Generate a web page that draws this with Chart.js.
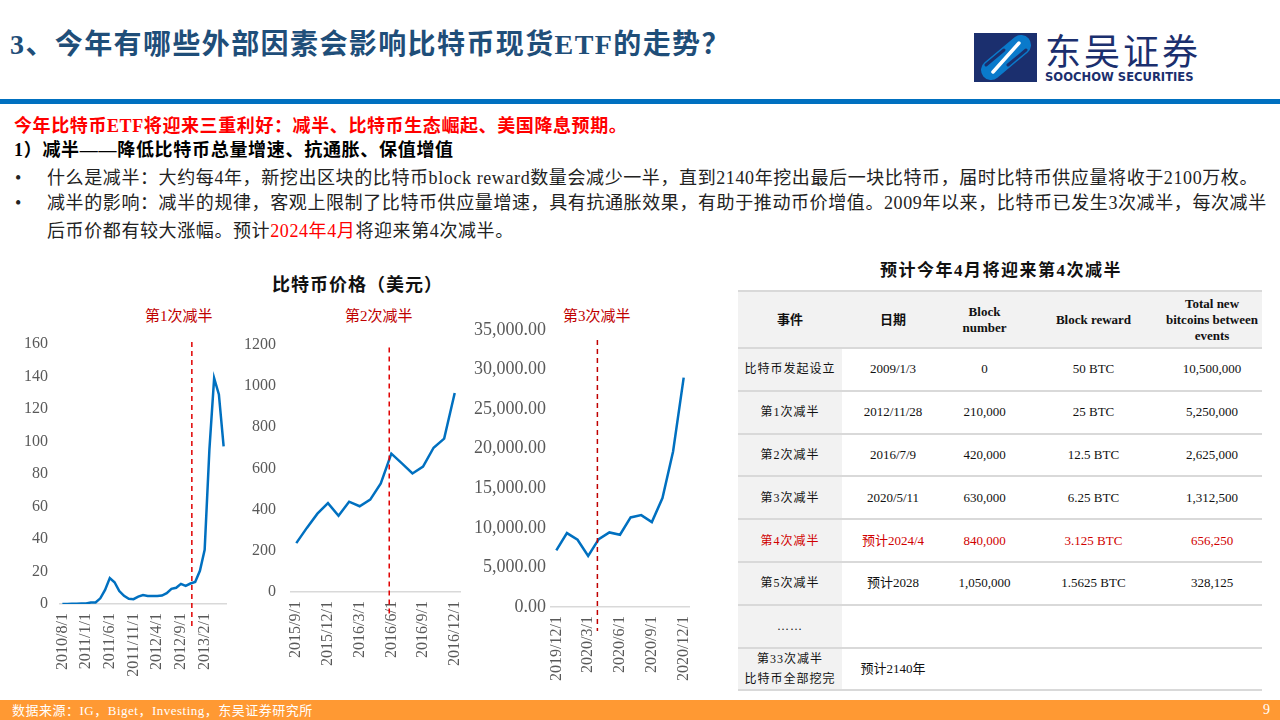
<!DOCTYPE html>
<html>
<head>
<meta charset="utf-8">
<script src="https://cdn.jsdelivr.net/npm/chart.js@4.4.1/dist/chart.umd.min.js"></script>
<style>
  body { margin: 0; width: 1280px; height: 720px; position: relative; overflow: hidden; background: #fff;
         font-family: 'Liberation Serif', 'Noto Sans CJK SC', serif; }
  .abs { position: absolute; white-space: nowrap; line-height: 1; }
  #head { left: 10px; top: 31px; font-size: 28px; font-weight: 700; color: #1F4E79; letter-spacing: 1.4px; }
  #rule { left: 0; top: 99px; width: 1280px; height: 5px; background: #0070C0; }
  .txt { font-size: 18px; color: #222; }
  .red { color: #FF0000; }
  .bold { font-weight: 700; }
  .ann { font-size: 15px; color: #C00000; }
  #ctitle { left: 272px; top: 276px; font-size: 18px; font-weight: 700; color: #111; letter-spacing: 1px; }
  #ttitle { left: 880px; top: 262px; font-size: 17px; font-weight: 700; color: #111; letter-spacing: 1.5px; }
  table { position: absolute; left: 738px; top: 290px; width: 524px; border-collapse: collapse; table-layout: fixed;
          font-size: 13px; color: #111; }
  th { background: #F2F2F2; height: 55px; padding: 0; font-weight: 700; border-top: 2px solid #D9D9D9; border-bottom: 2px solid #D9D9D9; line-height: 16px; }
  td { height: 40.8px; padding: 0; text-align: center; border-bottom: 2px solid #D9D9D9; line-height: 20px; }
  td.c1 { background: #F2F2F2; font-size: 12px; letter-spacing: 1px; }
  tr.hl td { color: #D00000; }
  #foot { left: 0; top: 700px; width: 1280px; height: 20px; background: #FF9933; }
  #src { left: 12px; top: 704px; font-size: 13px; color: #fff; letter-spacing: 0.5px; }
  #pg { left: 1263px; top: 703px; font-size: 14px; color: #fff; }
  canvas { position: absolute; }
</style>
</head>
<body>
<div class="abs" id="head">3、今年有哪些外部因素会影响比特币现货ETF的走势？</div>
<svg class="abs" style="left:974px;top:33px" width="63" height="49" viewBox="0 0 63 49">
  <rect x="0" y="0" width="63" height="49" fill="#1B2F6E"/>
  <line x1="17" y1="37" x2="47" y2="12" stroke="#0A7ACB" stroke-width="20" stroke-linecap="round"/>
  <line x1="12" y1="32" x2="30" y2="17" stroke="#1B2F6E" stroke-width="3" stroke-linecap="round"/>
  <line x1="34" y1="32" x2="52" y2="17" stroke="#1B2F6E" stroke-width="3" stroke-linecap="round"/>
  <line x1="19" y1="39" x2="45" y2="10" stroke="#fff" stroke-width="3.5" stroke-linecap="round"/>
</svg>
<div class="abs" style="left:1045px;top:31px;font-size:36px;color:#1B2F6E;font-family:'Noto Sans CJK SC';letter-spacing:3px;">东吴证券</div>
<div class="abs" style="left:1045px;top:70px;font-size:13px;font-weight:700;color:#1B2F6E;font-family:'DejaVu Sans';transform:scaleX(0.89);transform-origin:left top;">SOOCHOW SECURITIES</div>
<div class="abs" id="rule"></div>

<div class="abs txt red bold" style="left:14px;top:117px;letter-spacing:0.6px;">今年比特币ETF将迎来三重利好：减半、比特币生态崛起、美国降息预期。</div>
<div class="abs txt bold" style="left:14px;top:141px;color:#000;letter-spacing:0.7px;">1）减半——降低比特币总量增速、抗通胀、保值增值</div>
<div class="abs txt" style="left:15px;top:169px;">•</div>
<div class="abs txt" style="left:47px;top:169px;letter-spacing:0.6px;">什么是减半：大约每4年，新挖出区块的比特币block reward数量会减少一半，直到2140年挖出最后一块比特币，届时比特币供应量将收于2100万枚。</div>
<div class="abs txt" style="left:15px;top:194px;">•</div>
<div class="abs txt" style="left:47px;top:194px;letter-spacing:0.6px;">减半的影响：减半的规律，客观上限制了比特币供应量增速，具有抗通胀效果，有助于推动币价增值。2009年以来，比特币已发生3次减半，每次减半</div>
<div class="abs txt" style="left:47px;top:222px;letter-spacing:0.6px;">后币价都有较大涨幅。预计<span class="red">2024年4月</span>将迎来第4次减半。</div>

<div class="abs" id="ctitle">比特币价格（美元）</div>
<div class="abs ann" style="left:145px;top:309px;">第1次减半</div>
<div class="abs ann" style="left:345px;top:309px;">第2次减半</div>
<div class="abs ann" style="left:563px;top:309px;">第3次减半</div>

<canvas id="c1" width="260" height="380" style="left:0;top:320px;width:260px;height:380px"></canvas>
<canvas id="c2" width="260" height="380" style="left:230px;top:320px;width:260px;height:380px"></canvas>
<canvas id="c3" width="260" height="390" style="left:460px;top:310px;width:260px;height:390px"></canvas>

<div class="abs" id="ttitle">预计今年4月将迎来第4次减半</div>
<table>
  <colgroup><col style="width:104px"><col style="width:102px"><col style="width:81px"><col style="width:137px"><col style="width:100px"></colgroup>
  <thead><tr><th>事件</th><th>日期</th><th>Block<br>number</th><th>Block reward</th><th>Total new<br>bitcoins between<br>events</th></tr></thead>
  <tbody id="tb"></tbody>
</table>

<div class="abs" id="foot"></div>
<div class="abs" id="src">数据来源：IG，Biget，Investing，东吴证券研究所</div>
<div class="abs" id="pg">9</div>

<script>
// 第1次减半前后（2010/8 - 2013/6，月度）
const labels1 = ['2010/8/1','2010/9/1','2010/10/1','2010/11/1','2010/12/1','2011/1/1','2011/2/1','2011/3/1','2011/4/1','2011/5/1',
  '2011/6/1','2011/7/1','2011/8/1','2011/9/1','2011/10/1','2011/11/1','2011/12/1','2012/1/1','2012/2/1','2012/3/1',
  '2012/4/1','2012/5/1','2012/6/1','2012/7/1','2012/8/1','2012/9/1','2012/10/1','2012/11/1','2012/12/1','2013/1/1',
  '2013/2/1','2013/3/1','2013/4/1','2013/5/1','2013/6/1'];
const price1 = [0.07, 0.06, 0.2, 0.2, 0.3, 0.3, 0.9, 0.9, 3.5, 8.7,
  16, 13.4, 8, 5, 3.2, 3, 4.5, 5.5, 4.9, 4.9,
  4.9, 5.2, 6.7, 9.3, 10, 12.4, 11.2, 12.6, 13.5, 20.4,
  33.4, 95, 139, 129, 97];

// 第2次减半前后（2015/9 - 2016/12）
const labels2 = ['2015/9/1','2015/10/1','2015/11/1','2015/12/1','2016/1/1','2016/2/1','2016/3/1','2016/4/1',
  '2016/5/1','2016/6/1','2016/7/1','2016/8/1','2016/9/1','2016/10/1','2016/11/1','2016/12/1'];
const price2 = [237, 311, 380, 431, 370, 438, 416, 448, 527, 671, 624, 575, 608, 700, 744, 965];

// 第3次减半前后（2019/12 - 2020/12）
const labels3 = ['2019/12/1','2020/1/1','2020/2/1','2020/3/1','2020/4/1','2020/5/1','2020/6/1',
  '2020/7/1','2020/8/1','2020/9/1','2020/10/1','2020/11/1','2020/12/1'];
const price3 = [7150, 9340, 8500, 6440, 8580, 9420, 9130, 11320, 11610, 10730, 13760, 19650, 28990];

// 减半时间表
const events = ['比特币发起设立','第1次减半','第2次减半','第3次减半','第4次减半','第5次减半','……','第33次减半<br>比特币全部挖完'];
const dates = ['2009/1/3','2012/11/28','2016/7/9','2020/5/11','预计2024/4','预计2028','','预计2140年'];
const blocks = ['0','210,000','420,000','630,000','840,000','1,050,000','',''];
const rewards = ['50 BTC','25 BTC','12.5 BTC','6.25 BTC','3.125 BTC','1.5625 BTC','',''];
const totals = ['10,500,000','5,250,000','2,625,000','1,312,500','656,250','328,125','',''];

const tb = document.getElementById('tb');
events.forEach((e, i) => {
  const tr = document.createElement('tr');
  if (i === 4) tr.className = 'hl';
  tr.innerHTML = `<td class="c1">${e}</td><td>${dates[i]}</td><td>${blocks[i]}</td><td>${rewards[i]}</td><td>${totals[i]}</td>`;
  tb.appendChild(tr);
});

const halvingLine = {
  id: 'halvingLine',
  afterDatasetsDraw(chart, args, opts) {
    const { ctx, chartArea } = chart;
    const x = chart.scales.x.getPixelForValue(opts.at);
    ctx.save();
    ctx.strokeStyle = opts.color;
    ctx.lineWidth = 1.5;
    ctx.setLineDash([5, 4]);
    ctx.beginPath();
    ctx.moveTo(x, chartArea.top + opts.top);
    ctx.lineTo(x, chartArea.bottom + opts.below);
    ctx.stroke();
    ctx.restore();
  }
};

const makeChart = (id, labels, data, cfg) => {
  const chart = new Chart(document.getElementById(id), {
    type: 'line',
    data: { labels, datasets: [{ data, borderColor: '#0070C0', borderWidth: 2.5, pointRadius: 0, tension: 0 }] },
    plugins: [halvingLine],
    options: {
      responsive: false,
      animation: false,
      layout: { autoPadding: false, padding: { ...cfg.padding } },
      plugins: {
        legend: { display: false },
        tooltip: { enabled: false },
        halvingLine: { at: cfg.at, color: cfg.lineColor, top: cfg.lineTop, below: 24 }
      },
      scales: {
        x: {
          offset: true,
          grid: { display: false, drawTicks: false },
          border: { display: true, color: '#D9D9D9', width: 1.5 },
          afterFit: s => { s.height = cfg.xh; },
          ticks: {
            autoSkip: false, minRotation: 90, maxRotation: 90, padding: 9,
            color: '#595959', font: { family: 'Liberation Serif', size: 16 },
            callback: (v, i) => (i % cfg.every === 0 ? labels[i] : '')
          }
        },
        y: {
          min: 0, max: cfg.max,
          grid: { display: false, drawTicks: false },
          border: { display: false },
          afterFit: s => { s.width = cfg.yw; },
          ticks: {
            stepSize: cfg.step, padding: cfg.ypad,
            color: '#595959', font: { family: 'Liberation Serif', size: cfg.yfont },
            callback: cfg.fmt
          }
        }
      }
    }
  });
  // 把绘图区校正到参考图的位置
  for (let k = 0; k < 3; k++) {
    const a = chart.chartArea;
    cfg.padding.right += a.right - cfg.area.right;
    cfg.padding.top += cfg.area.top - a.top;
    cfg.yw += cfg.area.left - a.left;
    cfg.xh += a.bottom - cfg.area.bottom;
    chart.options.layout.padding = { ...cfg.padding };
    chart.update();
  }
  return chart;
};

makeChart('c1', labels1, price1, {
  area: { left: 60, right: 226, top: 24, bottom: 284 },
  padding: { top: 24, right: 34, left: 0, bottom: 0 }, xh: 96, yw: 60, ypad: 12, yfont: 16,
  max: 160, step: 20, every: 5, at: 27.3, lineColor: '#E00000', lineTop: -2, fmt: v => v
});
makeChart('c2', labels2, price2, {
  area: { left: 61, right: 230, top: 13, bottom: 272 },
  padding: { top: 13, right: 30, left: 0, bottom: 0 }, xh: 108, yw: 61, ypad: 15, yfont: 16,
  max: 1200, step: 200, every: 3, at: 8.8, lineColor: '#E00000', lineTop: 3, fmt: v => v
});
makeChart('c3', labels3, price3, {
  area: { left: 91, right: 229, top: 20, bottom: 297 },
  padding: { top: 20, right: 31, left: 0, bottom: 0 }, xh: 93, yw: 91, ypad: 5, yfont: 18,
  max: 35000, step: 5000, every: 3, at: 3.87, lineColor: '#C00000', lineTop: 10,
  fmt: v => v.toLocaleString('en-US', { minimumFractionDigits: 2, maximumFractionDigits: 2 })
});
</script>
</body>
</html>
